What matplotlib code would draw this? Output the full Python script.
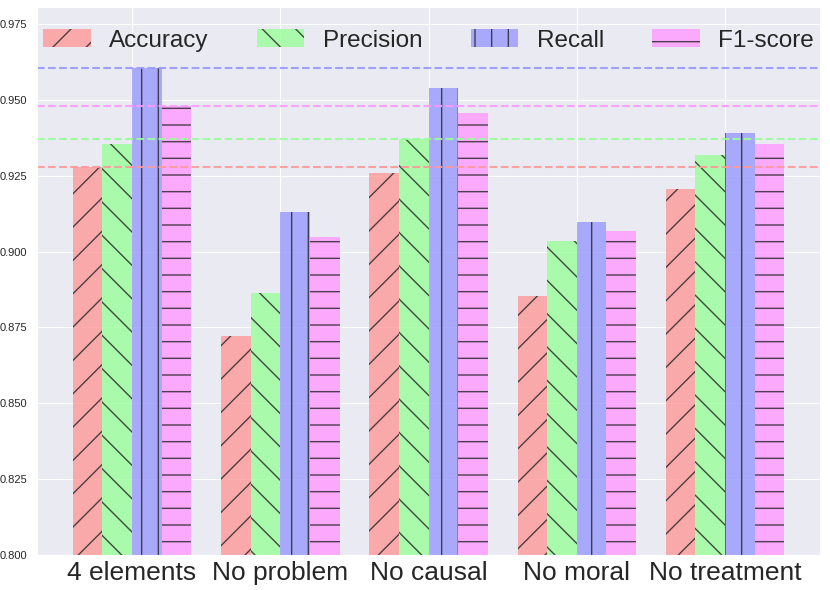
import matplotlib.pyplot as plt
import seaborn as sns
import numpy as np

sns.set_style('darkgrid')
plt.rcParams['font.family'] = ['Liberation Sans', 'DejaVu Sans']
plt.rcParams['hatch.linewidth'] = 1.0

groups = ['4 elements', 'No problem', 'No causal', 'No moral', 'No treatment']
metrics = ['Accuracy', 'Precision', 'Recall', 'F1-score']
accuracy = [0.928, 0.8722, 0.9259, 0.8854, 0.9206]
precision = [0.9356, 0.8862, 0.9372, 0.9035, 0.9318]
recall = [0.9606, 0.9131, 0.9538, 0.9097, 0.9391]
f1 = [0.948, 0.9047, 0.9456, 0.9068, 0.9354]

colors = ['#ff9999', '#99ff99', '#9999ff', '#ff99ff']
hatches = ['/', '\\', '|', '-']

fig = plt.figure(figsize=(8.3, 5.9), dpi=100)
ax = fig.add_axes([0.0446, 0.0593, 0.9434, 0.9288])

x = np.arange(len(groups))
width = 0.2
series = [accuracy, precision, recall, f1]
for i, vals in enumerate(series):
    ax.bar(x + (i - 1.5) * width, [v - 0.8 for v in vals], width, bottom=0.8,
           color=colors[i], alpha=0.8, hatch=hatches[i], label=metrics[i],
           edgecolor='#222222', linewidth=0)

# best value of every metric
for i, vals in enumerate(series):
    ax.axhline(max(vals), color=colors[i], linestyle='--', linewidth=1.5, alpha=0.9)

ax.set_ylim(0.8, 0.9806)
ax.set_yticks(np.arange(0.8, 0.976, 0.025))
ax.set_yticklabels(['%.3f' % t for t in np.arange(0.8, 0.976, 0.025)], fontsize=8)
ax.set_xticks(x)
ax.set_xticklabels(groups, fontsize=19)
ax.tick_params(axis='x', pad=1)

ax.legend(loc='upper center', ncol=4, fontsize=17.5, frameon=False,
          handlelength=1.95, handleheight=0.8, handletextpad=0.75,
          columnspacing=2.0, bbox_to_anchor=(0.5, 1.0))

fig.savefig('out.png', dpi=100)
